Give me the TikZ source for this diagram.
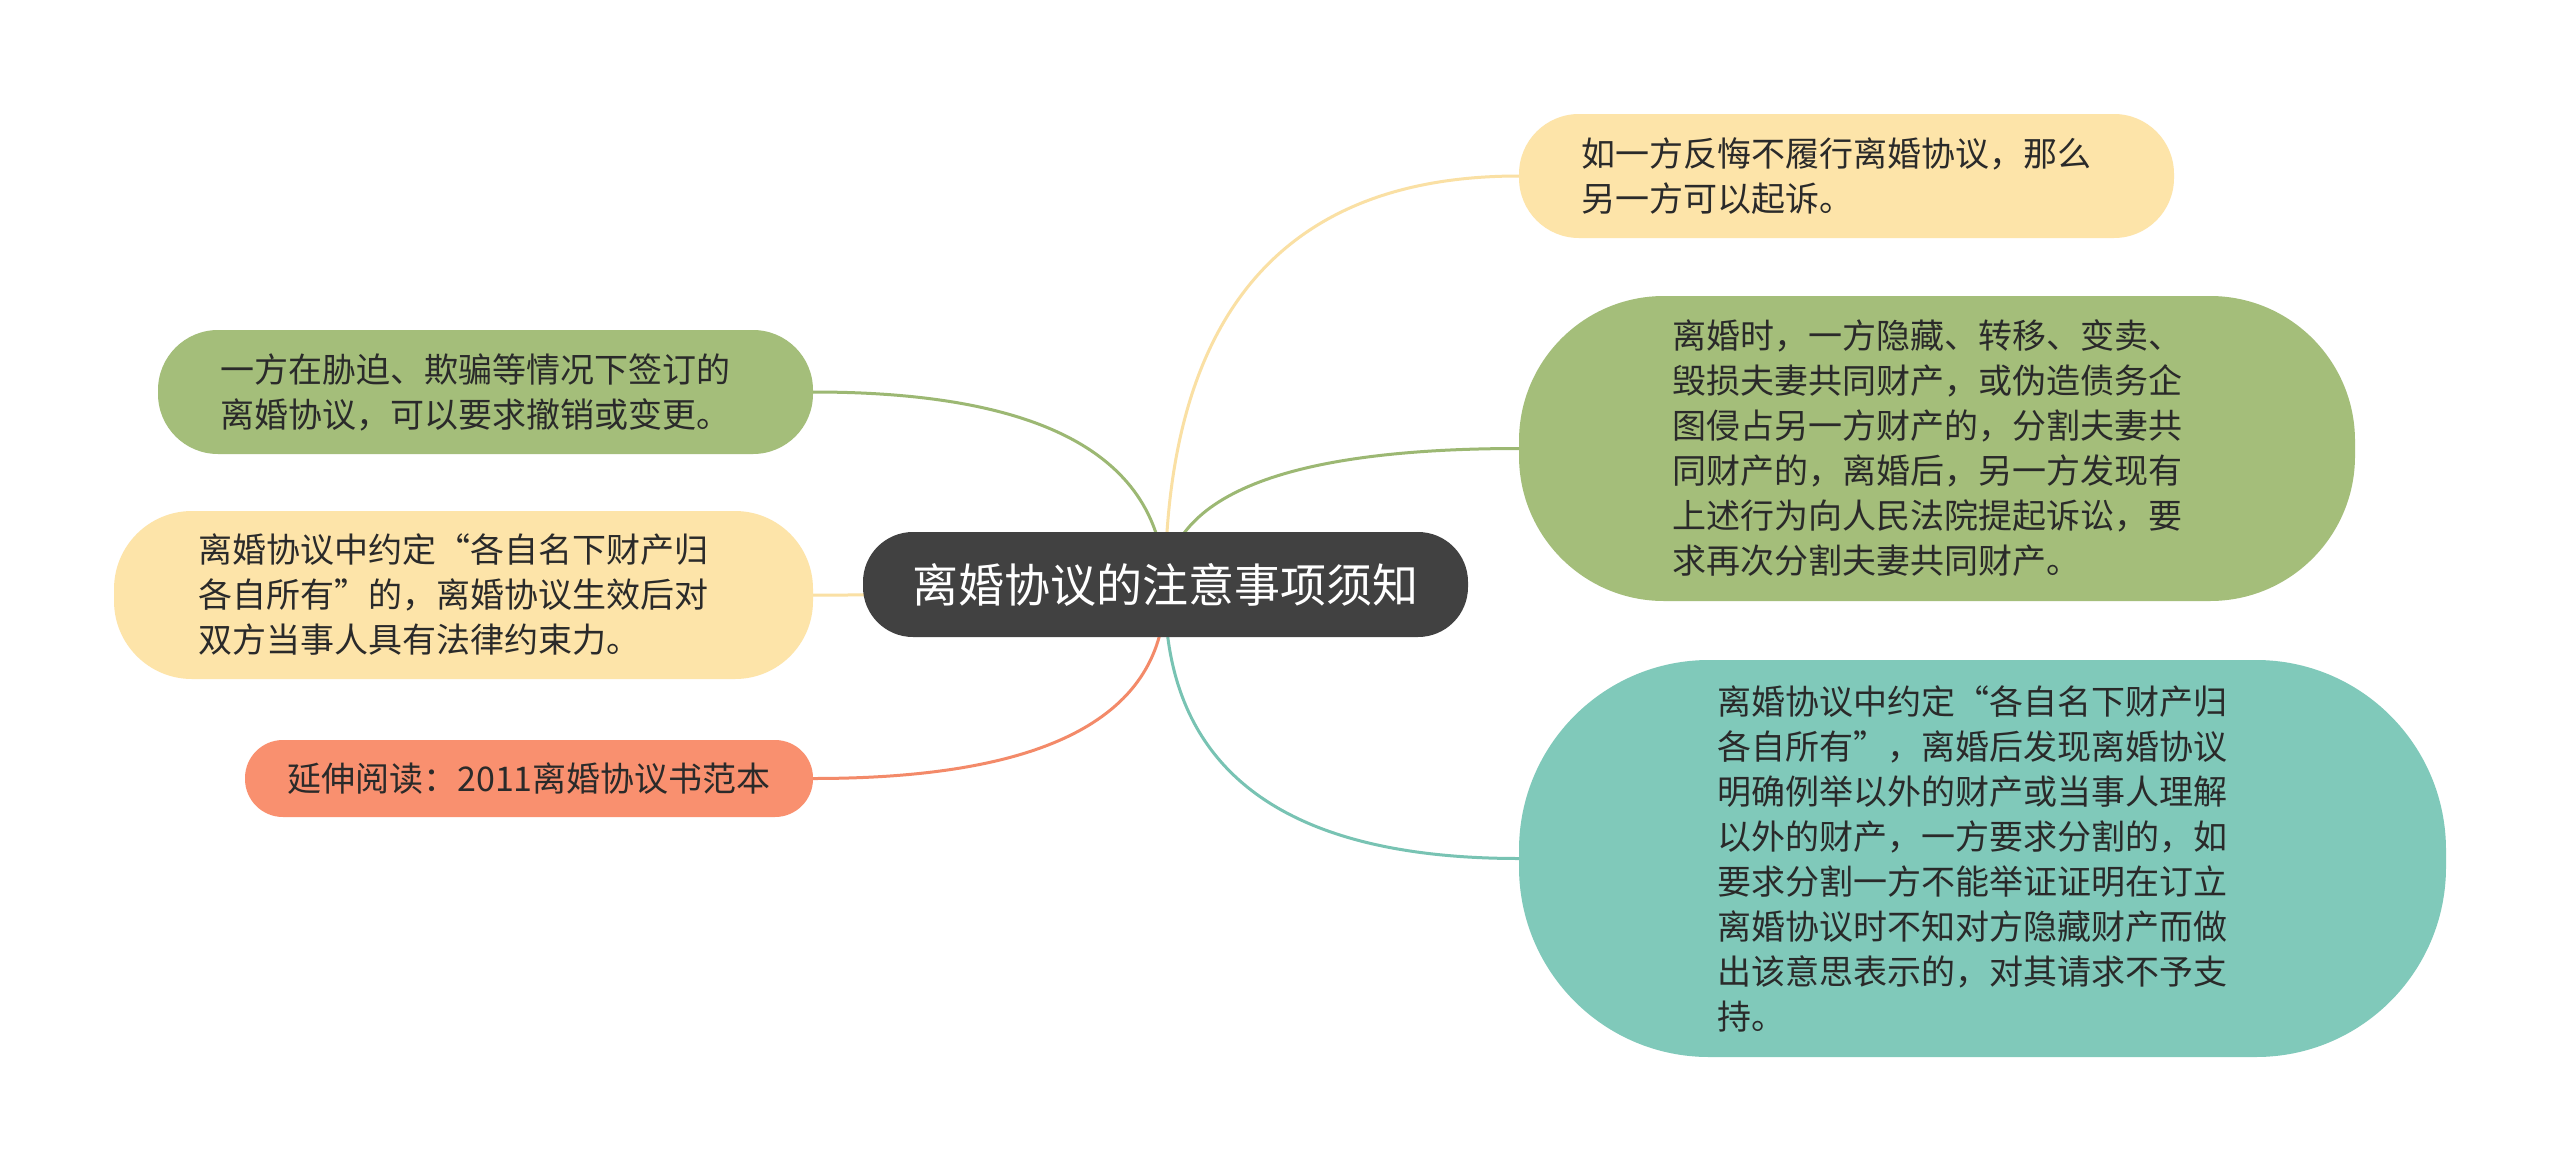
\documentclass[tikz,border=0pt]{standalone}
\usepackage{fontspec}
\setmainfont{Noto Sans CJK SC}
\usetikzlibrary{backgrounds,calc}
\definecolor{cyel}{HTML}{FDE4A9}
\definecolor{cgrn}{HTML}{A4BE7A}
\definecolor{cteal}{HTML}{80C9BA}
\definecolor{corg}{HTML}{F9906F}
\definecolor{cdark}{HTML}{414141}
\definecolor{ltyel}{HTML}{FAE0A4}
\definecolor{ltgrn}{HTML}{9CB873}
\definecolor{ltteal}{HTML}{78C3B3}
\definecolor{ltorg}{HTML}{F38A69}
\definecolor{txt}{HTML}{2A2A2A}
\tikzset{
  leaf/.style={align=left, text width=530pt, inner xsep=0pt, inner ysep=0pt,
    font=\fontsize{34}{45}\selectfont, text=txt},
  hubnode/.style={fill=cdark, rounded corners=50pt, minimum width=605pt, minimum height=105pt,
    inner sep=0pt, text=white, font=\fontsize{46}{58}\selectfont},
  link/.style={line width=3pt},
}
% quadratic curve from (hub) to #1 with control point (hub |- #1)
\newcommand{\quadlink}[2]{%
  \draw[link, #1] (hub) .. controls ($(hub)!0.6667!(hub |- #2)$) and ($(#2)!0.6667!(hub |- #2)$) .. (#2);}
\begin{document}
\begin{tikzpicture}[x=1pt,y=-1pt]
\useasboundingbox (0,0) rectangle (2560,1170);

\node[hubnode] (C) at (1165.5,584.5) {离婚协议的注意事项须知};
\coordinate (hub) at (1165,592);

\node[leaf, fill=cyel, rounded corners=60pt, minimum width=655pt, minimum height=124pt] (TY) at (1846.5,176)
 {如一方反悔不履行离婚协议，那么\\另一方可以起诉。};
\node[leaf, fill=cgrn, rounded corners=145pt, minimum width=836pt, minimum height=305pt] (RG) at (1937,448.5)
 {离婚时，一方隐藏、转移、变卖、\\毁损夫妻共同财产，或伪造债务企\\图侵占另一方财产的，分割夫妻共\\同财产的，离婚后，另一方发现有\\上述行为向人民法院提起诉讼，要\\求再次分割夫妻共同财产。};
\node[leaf, fill=cteal, rounded corners=190pt, minimum width=927pt, minimum height=397pt] (RT) at (1982.5,858.5)
 {离婚协议中约定“各自名下财产归\\各自所有”，离婚后发现离婚协议\\明确例举以外的财产或当事人理解\\以外的财产，一方要求分割的，如\\要求分割一方不能举证证明在订立\\离婚协议时不知对方隐藏财产而做\\出该意思表示的，对其请求不予支\\持。};
\node[leaf, fill=cgrn, rounded corners=60pt, minimum width=655pt, minimum height=124pt] (LG) at (485.5,392)
 {一方在胁迫、欺骗等情况下签订的\\离婚协议，可以要求撤销或变更。};
\node[leaf, fill=cyel, rounded corners=78pt, minimum width=699pt, minimum height=168pt] (LY) at (463.5,595)
 {离婚协议中约定“各自名下财产归\\各自所有”的，离婚协议生效后对\\双方当事人具有法律约束力。};
\node[fill=corg, rounded corners=38pt, minimum width=568pt, minimum height=77pt, inner sep=0pt,
  font=\fontsize{34}{45}\selectfont, text=txt] (LO) at (529,778.5)
 {延伸阅读：2011离婚协议书范本};

\begin{scope}[on background layer]
\fill[white] (0,0) rectangle (2560,1170);
\quadlink{ltyel}{TY.west}
\quadlink{ltgrn}{RG.west}
\quadlink{ltteal}{RT.west}
\quadlink{ltgrn}{LG.east}
\quadlink{ltyel}{LY.east}
\quadlink{ltorg}{LO.east}
\end{scope}
\end{tikzpicture}
\end{document}
